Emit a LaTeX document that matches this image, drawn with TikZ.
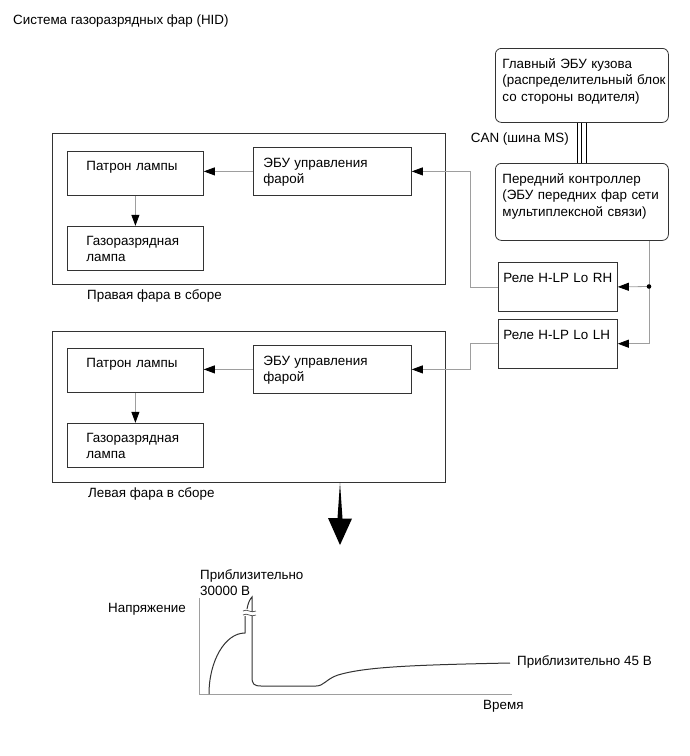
\documentclass[tikz,border=0pt]{standalone}
\usepackage{fontspec}
\setmainfont{Liberation Sans}
\usetikzlibrary{positioning, arrows.meta}

\definecolor{wire}{gray}{0.62}
\definecolor{ink}{gray}{0.2}

\begin{document}
\begin{tikzpicture}[
    x=1pt, y=-1pt,
    font=\fontsize{13.4pt}{16.5pt}\selectfont,
    unit/.style={
        rectangle,
        draw=ink,
        line width=0.8pt,
        anchor=north west,
        align=left,
        inner ysep=0pt
    },
    lampblock/.style={
        unit,
        text width=98pt,
        inner xsep=19pt,
        text height=19pt,
        text depth=25pt
    },
    ecublock/.style={
        unit,
        text width=138pt,
        inner xsep=10pt,
        text height=20pt,
        text depth=28pt
    },
    relayblock/.style={
        unit,
        text width=109pt,
        inner xsep=5pt,
        text height=20pt,
        text depth=29pt
    },
    mainblock/.style={
        unit,
        rounded corners=6pt,
        text width=159pt,
        inner xsep=7pt,
        text height=20pt,
        text depth=54pt
    },
    headlamp/.style={
        rectangle,
        draw=ink,
        line width=0.8pt,
        anchor=north west,
        inner sep=0pt,
        minimum width=393pt,
        minimum height=151pt
    },
    caption/.style={
        anchor=base west,
        inner sep=0pt
    },
    arrow/.style={
        draw=wire,
        line width=0.8pt,
        -{Triangle[length=11pt, width=8pt, color=black]}
    },
    bus/.style={line width=1.1pt},
    axis/.style={draw=wire, line width=0.8pt},
    trace/.style={draw=ink, line width=1pt}
]
\useasboundingbox (0,0) rectangle (690,756);

\node[caption] (title) at (13,24) {Система газоразрядных фар (HID)};

% body network side
\node[mainblock] (bcm) at (495,48)
{Главный ЭБУ кузова\\(распределительный~блок\\со~стороны~водителя)};

\node[mainblock, text depth=57pt] (ctrl) at (495,163)
{Передний~контроллер\\(ЭБУ~передних~фар~сети\\мультиплексной~связи)};

\node[caption, anchor=base east] (canlabel) at (569,142) {CAN (шина MS)};

\node[relayblock] (relayR) at (498,262) {Реле~H-LP~Lo~RH};
\node[relayblock, below=7pt of relayR] (relayL) {Реле~H-LP~Lo~LH};

% right headlamp
\node[headlamp] (frameR) at (52,133) {};
\node[lampblock] (socketR) at (67,151) {Патрон лампы};
\node[lampblock, below=30pt of socketR] (bulbR) {Газоразрядная\\лампа};
\node[ecublock] (ecuR) at (253,147) {ЭБУ управления\\фарой};
\node[caption] (labelR) at (87,299) {Правая фара в сборе};

% left headlamp
\node[headlamp, below=46pt of frameR] (frameL) {};
\node[lampblock] (socketL) at (67,348) {Патрон лампы};
\node[lampblock, below=30pt of socketL] (bulbL) {Газоразрядная\\лампа};
\node[ecublock] (ecuL) at (253,345) {ЭБУ управления\\фарой};
\node[caption] (labelL) at (88,497) {Левая фара в сборе};

% connections
\foreach \dx in {-4.5, 0, 4.5}
    \draw[bus] ([xshift=\dx pt]bcm.south) -- ([xshift=\dx pt]ctrl.north);

\coordinate (tap) at (649,286.5);
\draw[arrow] (ctrl.south -| tap) |- (relayL.east);
\draw[arrow] (tap) -- (relayR.east);
\fill (tap) circle (2.3pt);

\draw[arrow] (relayR.west) -- ++(-28,0) |- (ecuR.east);
\draw[arrow] (relayL.west) -- ++(-28,0) |- (ecuL.east);

\draw[arrow] (ecuR.west) -- (ecuR.west -| socketR.east);
\draw[arrow] (socketR) -- (bulbR);
\draw[arrow] (ecuL.west) -- (ecuL.west -| socketL.east);
\draw[arrow] (socketL) -- (bulbL);

% big arrow down to the graph
\coordinate (bigtip) at (340,545);
\fill (frameL.south -| bigtip) -- ++(2.5,36) -- ++(9.5,0) -- (bigtip)
    -- ++(-12,-27) -- ++(9.5,0) -- cycle;

% voltage graph
\draw[axis] (199,598) -- (199,694) -- (512,694);
\draw[trace] (209,694) .. controls (209,661) and (225,633) .. (245,633) -- (245,616);
\draw[trace] (247,609) .. controls (248,603) and (250,599) .. (252,597) -- (252,677)
    .. controls (252,684) and (254,686) .. (261,686) -- (316,686)
    .. controls (324,686) and (326,679) .. (338,675)
    .. controls (365,667) and (410,665) .. (510,663);
\fill[white] (243,611) .. controls (247,608) and (251,614) .. (256,611)
    -- (256,615) .. controls (251,618) and (247,612) .. (243,615) -- cycle;
\foreach \ty in {611, 615}
    \draw[draw=ink, line width=0.6pt] (243,\ty) .. controls (247,\ty-3) and (251,\ty+3) .. (256,\ty);

\node[caption] (ylabel) at (108,612) {Напряжение};
\node[anchor=north west, inner sep=0pt, align=left] (peak) at (200,569) {Приблизительно\\30000 В};
\node[caption] (level) at (517,665) {Приблизительно 45 В};
\node[caption] (xlabel) at (483,709) {Время};

\end{tikzpicture}
\end{document}
